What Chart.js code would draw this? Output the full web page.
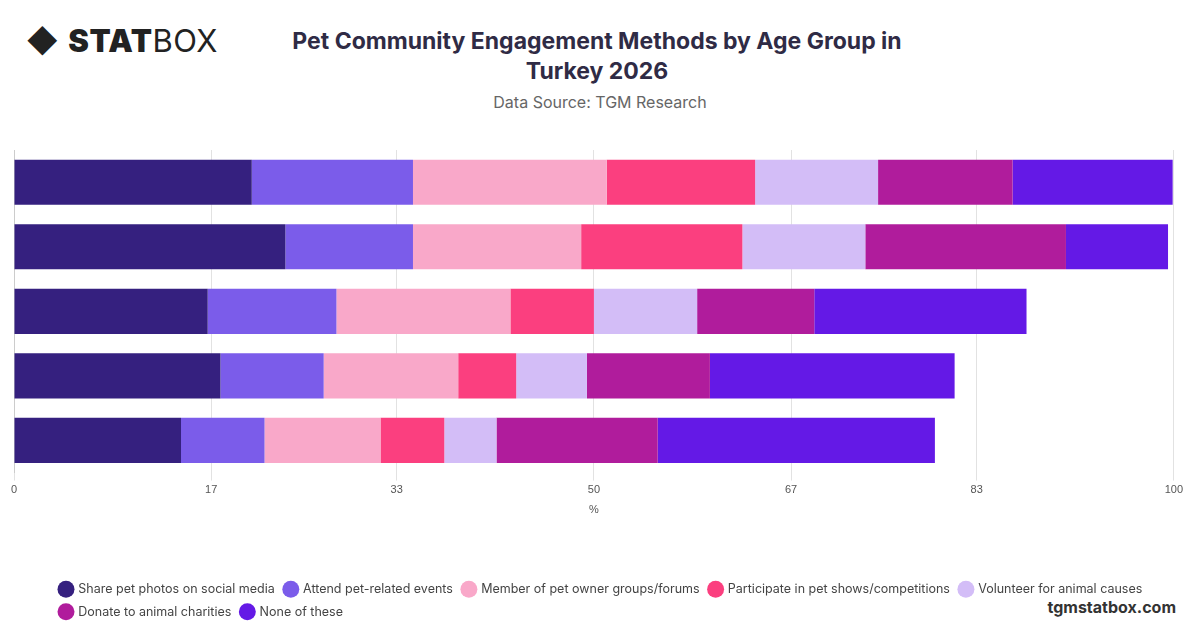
<!DOCTYPE html>
<html><head><meta charset="utf-8">
<script src="https://cdn.jsdelivr.net/npm/chart.js@4"></script>
<style>
body{margin:0;width:1200px;height:628px;background:#fff;font-family:Inter,"Open Sans",sans-serif;position:relative;overflow:hidden}
#logo{position:absolute;left:26px;top:22px;font-size:31px;color:#222;letter-spacing:0.5px}
#logo b{font-weight:900}
#title{position:absolute;left:277px;width:640px;top:26px;text-align:center;font-size:23px;font-weight:700;color:#2f2b45;line-height:30px}
#sub{position:absolute;left:0;width:1200px;top:92px;text-align:center;font-size:16px;color:#666}
#foot{position:absolute;right:24px;top:597px;font-size:16px;font-weight:700;color:#333}
#wrap{position:absolute;left:0;top:144px;width:1186px;height:484px}
</style></head><body>
<div id="logo">◆ <b>STAT</b>BOX</div>
<div id="title">Pet Community Engagement Methods by Age Group in Turkey 2026</div>
<div id="sub">Data Source: TGM Research</div>
<div id="foot">tgmstatbox.com</div>
<div id="wrap"><canvas id="c"></canvas></div>
<script>
// ── Data ───────────────────────────────────────────
const ageGroups = ["18-24", "25-34", "35-44", "45-54", "55+"];
const seriesNames = [
  "Share pet photos on social media", "Attend pet-related events",
  "Member of pet owner groups/forums", "Participate in pet shows/competitions",
  "Volunteer for animal causes", "Donate to animal charities", "None of these"
];
const sharePhotos  = [20.5, 23.4, 16.7, 17.8, 14.4];
const attendEvents = [13.9, 11.0, 11.1, 8.9, 7.2];
const memberGroups = [16.7, 14.5, 15.0, 11.6, 10.0];
const petShows     = [12.8, 13.9, 7.2, 5.0, 5.5];
const volunteer    = [10.6, 10.6, 8.9, 6.1, 4.5];
const donate       = [11.6, 17.3, 10.1, 10.6, 13.9];
const noneOfThese  = [13.8, 8.8, 18.3, 21.1, 23.9];
const tickValues   = [0, 17, 33, 50, 67, 83, 100];

const colors = ["#35207f", "#7b5cea", "#f9a8c9", "#fb3f7f", "#d3bdf7", "#b01c9c", "#6419e6"];
const values = [sharePhotos, attendEvents, memberGroups, petShows, volunteer, donate, noneOfThese];

new Chart(document.getElementById("c"), {
  type: "bar",
  data: {
    labels: ageGroups,
    datasets: seriesNames.map((n, i) => ({
      label: n, data: values[i], backgroundColor: colors[i],
      barPercentage: 0.7, categoryPercentage: 1
    }))
  },
  options: {
    indexAxis: "y",
    responsive: true, maintainAspectRatio: false, animation: false,
    layout: { padding: { left: 50, right: 10, top: 6 } },
    plugins: {
      legend: {
        position: "bottom", align: "start",
        labels: { usePointStyle: true, pointStyle: "circle", boxWidth: 12, boxHeight: 12, padding: 10,
                  color: "#444", font: { size: 12.5, family: "Inter" } }
      },
      tooltip: { enabled: false }
    },
    scales: {
      x: {
        stacked: true, min: 0, max: 100,
        afterBuildTicks: a => { a.ticks = tickValues.map(v => ({ value: v })); },
        ticks: { color: "#555", font: { size: 11 } },
        grid: { color: "#e2e2e2" }, border: { display: false },
        title: { display: true, text: "%", color: "#555", font: { size: 11 }, padding: { top: 4, bottom: 56 } }
      },
      y: {
        stacked: true,
        afterFit: a => { a.width = 0; },
        ticks: { display: false },
        grid: { display: false },
        border: { color: "#ccc" }
      }
    }
  },
  plugins: [{
    id: "shiftPlot",
    afterLayout(chart) {
      // keep the plot starting at the left edge while the legend stays indented
      const s = chart.scales;
      const dx = s.x.left - 14;
      s.x.left -= dx; s.x.width += dx;
      s.y.left -= dx; s.y.right -= dx;
      chart.chartArea.left -= dx;
      s.x.configure(); s.x.generateTickLabels(s.x.ticks);
    }
  }]
});
</script>
</body></html>
